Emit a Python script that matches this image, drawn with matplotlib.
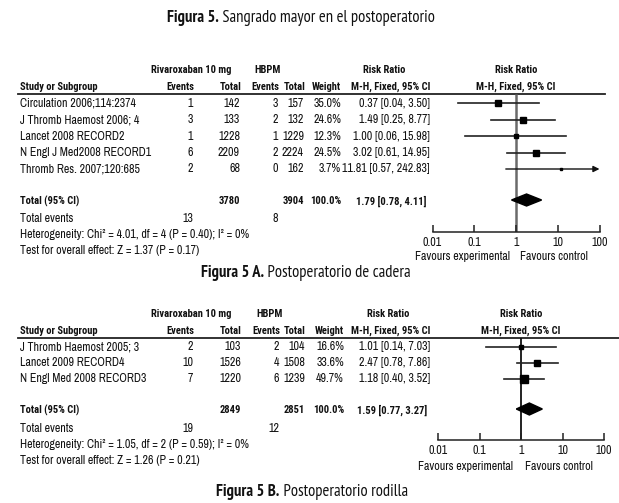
import matplotlib
matplotlib.use('Agg')
import matplotlib.pyplot as plt
from matplotlib import font_manager as fm
from matplotlib.ticker import NullLocator

# ---------------- data ----------------
title_bold = "Figura 5."
title_rest = " Sangrado mayor en el postoperatorio"

studies_a = ["Circulation 2006;114:2374", "J Thromb Haemost 2006; 4", "Lancet 2008 RECORD2",
             "N Engl J Med2008 RECORD1", "Thromb Res. 2007;120:685"]
riva_events_a = [1, 3, 1, 6, 2]
riva_total_a = [142, 133, 1228, 2209, 68]
hbpm_events_a = [3, 2, 1, 2, 0]
hbpm_total_a = [157, 132, 1229, 2224, 162]
weight_a = [35.0, 24.6, 12.3, 24.5, 3.7]
rr_a = [0.37, 1.49, 1.00, 3.02, 11.81]
lo_a = [0.04, 0.25, 0.06, 0.61, 0.57]
hi_a = [3.50, 8.77, 15.98, 14.95, 242.83]
total_a = dict(riva_total=3780, hbpm_total=3904, weight=100.0, rr=1.79, lo=0.78, hi=4.11,
               riva_events=13, hbpm_events=8)
het_a = "Heterogeneity: Chi² = 4.01, df = 4 (P = 0.40); I² = 0%"
test_a = "Test for overall effect: Z = 1.37 (P = 0.17)"
cap_a = ("Figura 5 A.", " Postoperatorio de cadera")

studies_b = ["J Thromb Haemost 2005; 3", "Lancet 2009 RECORD4", "N Engl Med 2008 RECORD3"]
riva_events_b = [2, 10, 7]
riva_total_b = [103, 1526, 1220]
hbpm_events_b = [2, 4, 6]
hbpm_total_b = [104, 1508, 1239]
weight_b = [16.6, 33.6, 49.7]
rr_b = [1.01, 2.47, 1.18]
lo_b = [0.14, 0.78, 0.40]
hi_b = [7.03, 7.86, 3.52]
total_b = dict(riva_total=2849, hbpm_total=2851, weight=100.0, rr=1.59, lo=0.77, hi=3.27,
               riva_events=19, hbpm_events=12)
het_b = "Heterogeneity: Chi² = 1.05, df = 2 (P = 0.59); I² = 0%"
test_b = "Test for overall effect: Z = 1.26 (P = 0.21)"
cap_b = ("Figura 5 B.", " Postoperatorio rodilla")

tick_vals = [0.01, 0.1, 1, 10, 100]
tick_labels = ["0.01", "0.1", "1", "10", "100"]

# ---------------- fonts ----------------
names = {f.name for f in fm.fontManager.ttflist}


def first(cands):
    for c in cands:
        if c in names:
            return [c, 'DejaVu Sans']
    return ['DejaVu Sans']


BODY = first(['Archivo Narrow', 'Roboto Condensed', 'Liberation Sans Narrow', 'PT Sans Narrow'])
BODYB = first(['Roboto Condensed', 'Liberation Sans Narrow', 'PT Sans Narrow'])
HEAD = first(['PT Sans Narrow', 'Fira Sans Condensed', 'Open Sans Condensed', 'Roboto Condensed'])

W, H = 619, 503
fig = plt.figure(figsize=(W / 100, H / 100), dpi=100)
fig.patch.set_facecolor('white')
ov = fig.add_axes([0, 0, 1, 1])
ov.set_xlim(0, W)
ov.set_ylim(H, 0)
ov.axis('off')
renderer = fig.canvas.get_renderer()


def fit(text, target, family, bold=False):
    t = fig.text(0, 0, text, fontsize=10, family=family, fontweight='bold' if bold else 'normal')
    w = t.get_window_extent(renderer=renderer).width
    t.remove()
    return 10 * target / w


FS = fit("Circulation 2006;114:2374", 115, BODY)
FSB = fit("Study or Subgroup", 78, BODYB, bold=True)
FST = fit(title_bold + title_rest, 265, HEAD)


def T(x, y, s, ha='left', bold=False, size=None, family=None, color='#111111'):
    if size is None:
        size = FSB if bold else FS
    if family is None:
        family = BODYB if bold else BODY
    return ov.text(x, y, s, ha=ha, va='center', fontsize=size,
                   fontweight='bold' if bold else 'normal', color=color, family=family)


def mixed(xc, y, b, r, size):
    t1 = T(0, y, b, bold=True, size=size, family=HEAD)
    t2 = T(0, y, r, size=size, family=HEAD)
    w1 = t1.get_window_extent(renderer=renderer).width
    w2 = t2.get_window_extent(renderer=renderer).width
    x0 = xc - (w1 + w2) / 2
    t1.set_x(x0)
    t2.set_x(x0 + w1)


mixed(301, 18, title_bold, title_rest, FST)


def panel(studies, re, rt, he, ht, wt, rr, lo, hi, tot, het, test, cap, L):
    T(L['riva_c'], L['h1'], "Rivaroxaban 10 mg", ha='center', bold=True)
    T(L['hbpm_c'], L['h1'], "HBPM", ha='center', bold=True)
    T(L['rr_c'], L['h1'], "Risk Ratio", ha='center', bold=True)
    T(L['plot_c'], L['h1'], "Risk Ratio", ha='center', bold=True)
    T(20, L['h2'], "Study or Subgroup", bold=True)
    T(L['c_re'], L['h2'], "Events", ha='right', bold=True)
    T(L['c_rt'], L['h2'], "Total", ha='right', bold=True)
    T(L['c_he'], L['h2'], "Events", ha='right', bold=True)
    T(L['c_ht'], L['h2'], "Total", ha='right', bold=True)
    T(L['c_w'], L['h2'], "Weight", ha='right', bold=True)
    T(L['c_rr'], L['h2'], "M-H, Fixed, 95% CI", ha='right', bold=True)
    T(L['plot_c'], L['h2'], "M-H, Fixed, 95% CI", ha='center', bold=True)
    ov.plot([18, L['line_end']], [L['line'], L['line']], color='#222222', lw=1.3)

    for i, s in enumerate(studies):
        y = L['rows'][i]
        T(20, y, s)
        T(L['c_re'] - 1, y, str(re[i]), ha='right')
        T(L['c_rt'] - 1, y, str(rt[i]), ha='right')
        T(L['c_he'] - 1, y, str(he[i]), ha='right')
        T(L['c_ht'] - 1, y, str(ht[i]), ha='right')
        T(L['c_w'], y, f"{wt[i]:.1f}%", ha='right')
        T(L['c_rr'], y, f"{rr[i]:.2f} [{lo[i]:.2f}, {hi[i]:.2f}]", ha='right')

    yt = L['tot']
    T(20, yt, "Total (95% CI)", bold=True)
    T(L['c_rt'] - 1, yt, str(tot['riva_total']), ha='right', bold=True)
    T(L['c_ht'] - 1, yt, str(tot['hbpm_total']), ha='right', bold=True)
    T(L['c_w'], yt, f"{tot['weight']:.1f}%", ha='right', bold=True)
    T(L['c_rr'] - 3, yt, f"{tot['rr']:.2f} [{tot['lo']:.2f}, {tot['hi']:.2f}]", ha='right', bold=True)
    T(20, L['tev'], "Total events")
    T(L['c_re'] - 1, L['tev'], str(tot['riva_events']), ha='right')
    T(L['c_he'] - 1, L['tev'], str(tot['hbpm_events']), ha='right')
    T(20, L['het'], het)
    T(20, L['test'], test)
    mixed(L['cap_c'], L['cap'], cap[0], cap[1], FST)

    # forest plot axes (log x, rows in pixel units)
    x0, x1 = L['ax_x']
    ytop, ybot = L['line'], L['axis']
    ax = fig.add_axes([x0 / W, 1 - ybot / H, (x1 - x0) / W, (ybot - ytop) / H])
    ax.set_xscale('log')
    ax.set_xlim(0.01, 100)
    ax.set_ylim(ybot, ytop)
    ax.patch.set_alpha(0)
    for sp in ['top', 'right', 'left']:
        ax.spines[sp].set_visible(False)
    ax.spines['bottom'].set_linewidth(1.1)
    ax.spines['bottom'].set_color('#222222')
    ax.set_xticks(tick_vals)
    ax.set_xticklabels(tick_labels, fontsize=FS, family=BODY, color='#111111')
    ax.xaxis.set_minor_locator(NullLocator())
    ax.tick_params(axis='x', direction='in', length=5, width=1.1, pad=3.5, color='#222222')
    ax.set_yticks([])
    ax.plot([1, 1], [ytop, ybot], color=L['vcol'], lw=L['vlw'], solid_capstyle='butt', zorder=1)

    for i in range(len(studies)):
        y = L['rows'][i]
        if hi[i] > 100:
            ax.annotate('', xy=(100, y), xytext=(lo[i], y),
                        arrowprops=dict(arrowstyle='-|>', color='#111111', lw=1.0,
                                        mutation_scale=9, shrinkA=0, shrinkB=0))
        else:
            ax.plot([lo[i], hi[i]], [y, y], color='#222222', lw=1.2, zorder=2)
        ax.plot([rr[i]], [y], marker='s', color='black', linestyle='none',
                markersize=max(wt[i], 4) ** 0.5 * 0.75, zorder=3)

    yd = L['diam']
    ax.fill([tot['lo'], tot['rr'], tot['hi'], tot['rr']], [yd, yd - 6, yd, yd + 6],
            color='black', zorder=4)

    fx = L['fav']
    T(fx[0], L['favy'], "Favours experimental", ha='right')
    T(fx[1], L['favy'], "Favours control", ha='left')


LA = dict(h1=70, h2=87, line=94, line_end=605, rows=[103, 119.5, 136, 152.5, 169], tot=201,
          diam=200, tev=218, het=235, test=251, cap=273, cap_c=306, axis=232,
          riva_c=191, hbpm_c=268, rr_c=384, plot_c=516,
          c_re=194, c_rt=241, c_he=279, c_ht=305, c_w=341, c_rr=430,
          ax_x=(432.5, 599.5), vcol='#6a6a6a', vlw=1.8, fav=(510, 520), favy=256)
LB = dict(h1=314, h2=331, line=338, line_end=619, rows=[347, 363, 379], tot=410,
          diam=409, tev=428, het=444, test=460, cap=492, cap_c=312, axis=440,
          riva_c=191, hbpm_c=270, rr_c=388, plot_c=521,
          c_re=194, c_rt=242, c_he=280, c_ht=306, c_w=344, c_rr=430,
          ax_x=(438, 604), vcol='#111111', vlw=1.3, fav=(513, 525), favy=466)

panel(studies_a, riva_events_a, riva_total_a, hbpm_events_a, hbpm_total_a, weight_a,
      rr_a, lo_a, hi_a, total_a, het_a, test_a, cap_a, LA)
panel(studies_b, riva_events_b, riva_total_b, hbpm_events_b, hbpm_total_b, weight_b,
      rr_b, lo_b, hi_b, total_b, het_b, test_b, cap_b, LB)

fig.savefig('out.png', dpi=100, facecolor='white')
